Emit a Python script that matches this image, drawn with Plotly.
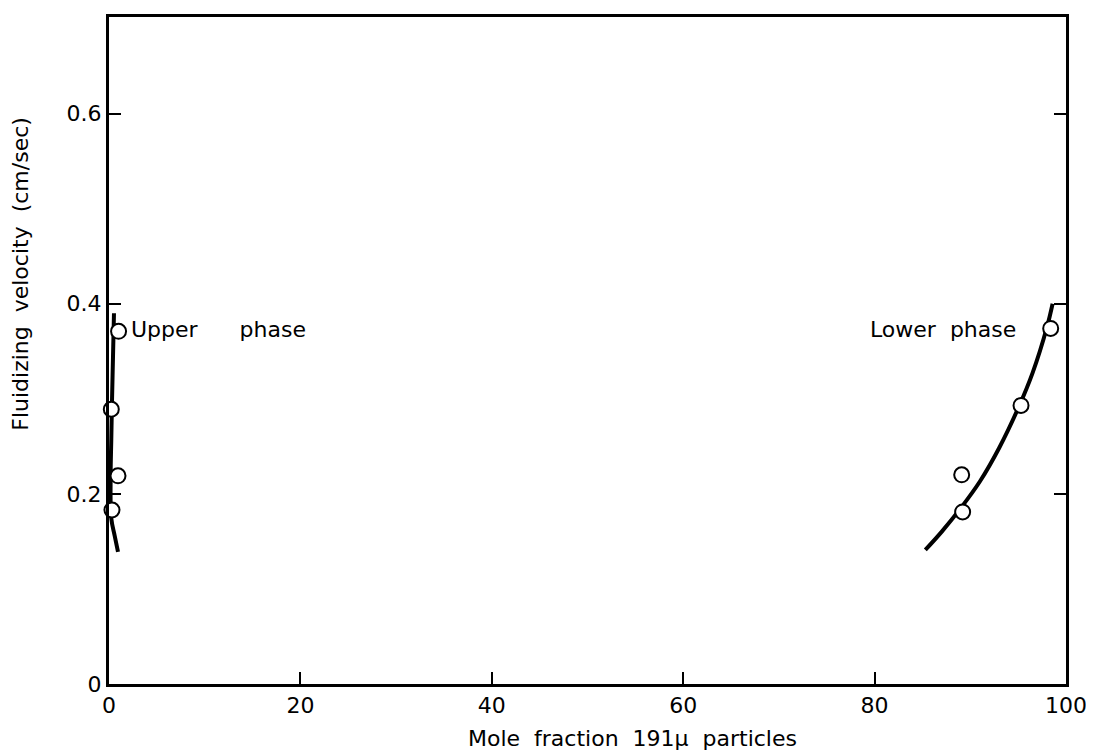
import plotly.graph_objects as go

# Upper phase data
upper_x = [1.0, 0.24, 0.94, 0.31]
upper_y = [0.371, 0.289, 0.219, 0.183]
upper_curve_x = [0.52, 0.42, 0.31, 0.24, 0.17, 0.24, 0.59, 0.94]
upper_curve_y = [0.390, 0.345, 0.296, 0.258, 0.219, 0.174, 0.156, 0.139]

# Lower phase data
lower_x = [98.4, 95.3, 89.1, 89.2]
lower_y = [0.374, 0.293, 0.220, 0.181]
lower_curve_x = [85.3, 87.0, 89.0, 91.0, 93.0, 95.0, 96.5, 98.0, 98.6]
lower_curve_y = [0.141, 0.160, 0.185, 0.213, 0.248, 0.290, 0.327, 0.375, 0.400]

x_ticks = [0, 20, 40, 60, 80, 100]
y_ticks = [0, 0.2, 0.4, 0.6]
y_tick_text = ["0", "0.2", "0.4", "0.6"]

FONT = "DejaVu Sans"
SP = "\u00a0"

fig = go.Figure()
line_style = dict(color="black", width=4, shape="spline", smoothing=1.0)
marker_style = dict(symbol="circle", size=15, color="white", line=dict(color="black", width=2))

fig.add_trace(go.Scatter(x=upper_curve_x, y=upper_curve_y, mode="lines", line=line_style, showlegend=False))
fig.add_trace(go.Scatter(x=lower_curve_x, y=lower_curve_y, mode="lines", line=line_style, showlegend=False))
fig.add_trace(go.Scatter(x=upper_x, y=upper_y, mode="markers", marker=marker_style, showlegend=False, cliponaxis=False))
fig.add_trace(go.Scatter(x=lower_x, y=lower_y, mode="markers", marker=marker_style, showlegend=False))

fig.add_annotation(x=2.1, y=0.373, text="Upper" + SP * 6 + "phase", showarrow=False,
                   xanchor="left", yanchor="middle", font=dict(family=FONT, size=22, color="black"))
fig.add_annotation(x=95.0, y=0.373, text="Lower" + SP * 2 + "phase", showarrow=False,
                   xanchor="right", yanchor="middle", font=dict(family=FONT, size=22, color="black"))

fig.add_annotation(x=0.5475, y=-0.082, xref="paper", yref="paper",
                   text="Mole" + SP * 2 + "fraction" + SP * 2 + "191\u03bc" + SP * 2 + "particles",
                   showarrow=False, xanchor="center", yanchor="middle",
                   font=dict(family=FONT, size=22, color="black"))
fig.add_annotation(x=-0.092, y=0.615, xref="paper", yref="paper",
                   text="Fluidizing" + SP * 2 + "velocity" + SP * 2 + "(cm/sec)",
                   showarrow=False, textangle=-90, xanchor="center", yanchor="middle",
                   font=dict(family=FONT, size=22, color="black"))

fig.update_xaxes(range=[0, 100], tickvals=x_ticks, ticks="inside", ticklen=12, tickwidth=2, tickcolor="black",
                 showline=True, linecolor="black", linewidth=3, mirror=True, showgrid=False, zeroline=False,
                 tickfont=dict(family=FONT, size=22, color="black"))
fig.update_yaxes(range=[0, 0.7016], tickvals=y_ticks, ticktext=y_tick_text, ticks="inside", ticklen=12, tickwidth=2,
                 tickcolor="black", showline=True, linecolor="black", linewidth=3, mirror="ticks",
                 showgrid=False, zeroline=False, tickfont=dict(family=FONT, size=22, color="black"))

fig.update_layout(width=1094, height=750, margin=dict(l=101, r=36, t=6, b=74),
                  plot_bgcolor="white", paper_bgcolor="white", showlegend=False)

fig.write_html("out.html")
